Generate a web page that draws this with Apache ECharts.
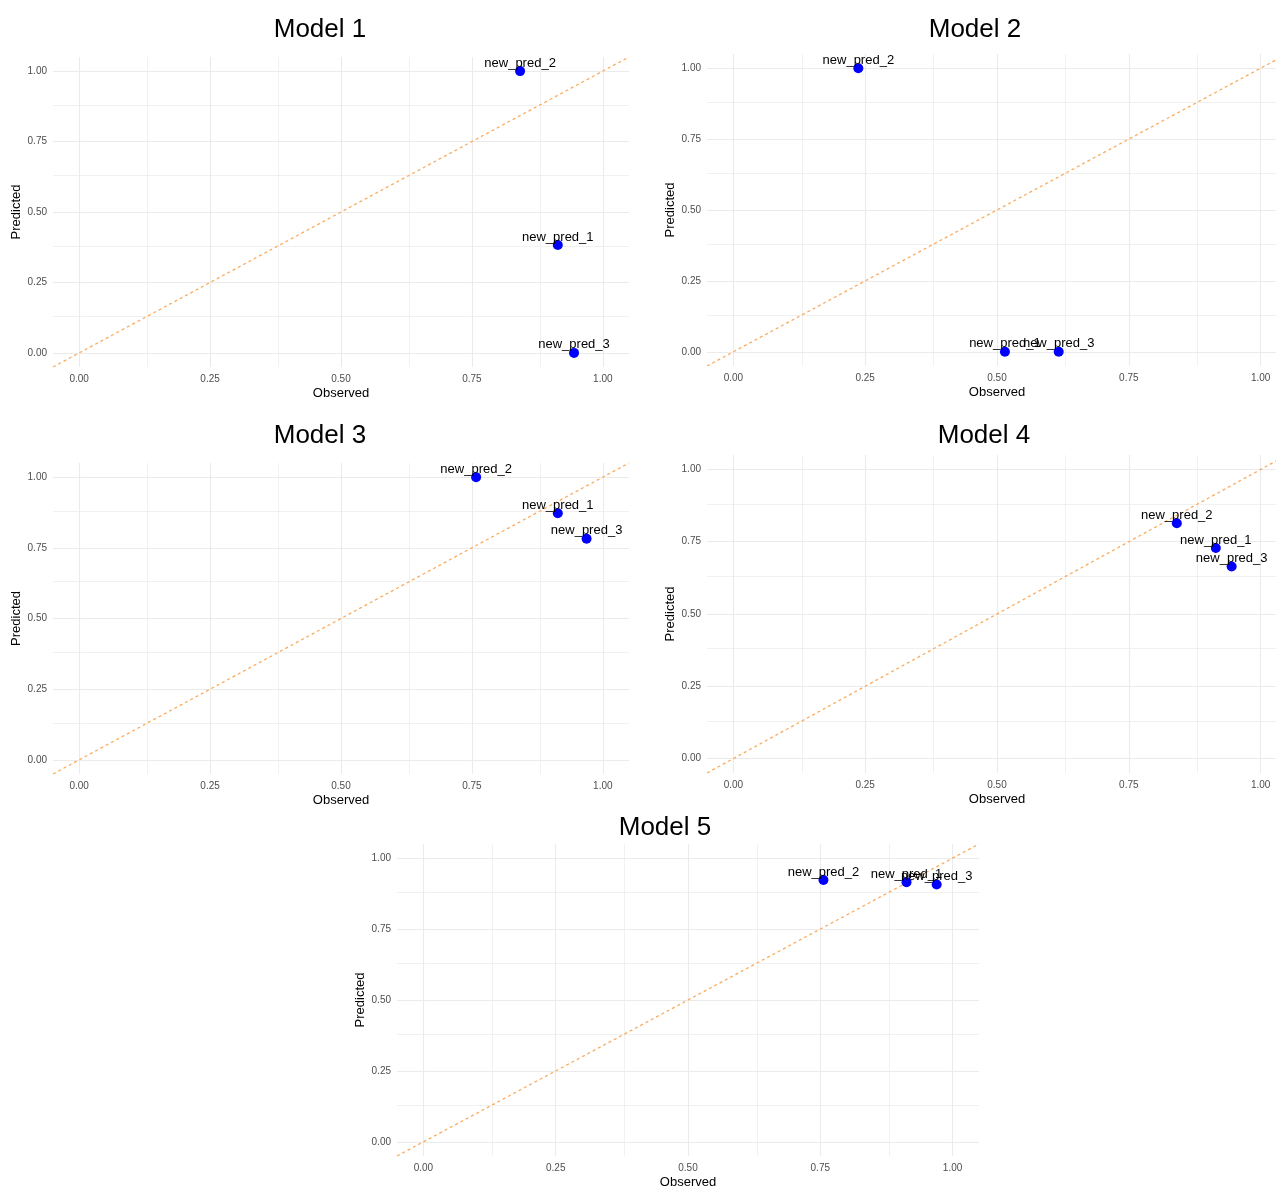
<!DOCTYPE html>
<html>
<head>
<meta charset="utf-8">
<title>Observed vs Predicted</title>
<script src="https://cdn.jsdelivr.net/npm/echarts@6/dist/echarts.min.js"></script>
<style>
  html, body { margin: 0; padding: 0; background: #ffffff; }
  #chart { width: 1276px; height: 1189px; }
</style>
</head>
<body>
<div id="chart"></div>
<script>
// Point names shared by every model
const pointNames = ['new_pred_1', 'new_pred_2', 'new_pred_3'];

// Observed / predicted values per model (same order as pointNames)
const model1Observed = [0.914, 0.842, 0.945];
const model1Predicted = [0.383, 1.000, 0.000];
const model2Observed = [0.515, 0.237, 0.617];
const model2Predicted = [0.000, 1.000, 0.000];
const model3Observed = [0.914, 0.758, 0.969];
const model3Predicted = [0.872, 1.000, 0.782];
const model4Observed = [0.915, 0.841, 0.945];
const model4Predicted = [0.728, 0.814, 0.664];
const model5Observed = [0.913, 0.756, 0.970];
const model5Predicted = [0.915, 0.923, 0.907];

const modelTitles = ['Model 1', 'Model 2', 'Model 3', 'Model 4', 'Model 5'];

// Axis scale: padded range, breaks and tick labels
const axisLimits = [-0.05, 1.05];
const majorBreaks = [0, 0.25, 0.5, 0.75, 1];
const minorBreaks = [0.125, 0.375, 0.625, 0.875];
const tickLabels = ['0.00', '0.25', '0.50', '0.75', '1.00'];

const models = [
  { obs: model1Observed, pred: model1Predicted },
  { obs: model2Observed, pred: model2Predicted },
  { obs: model3Observed, pred: model3Predicted },
  { obs: model4Observed, pred: model4Predicted },
  { obs: model5Observed, pred: model5Predicted }
];

// Panel placement (plot areas) and title centres
const panelBoxes = [
  { left: 53,  top: 57,  width: 576, height: 310, titleX: 315, titleY: 12 },
  { left: 707, top: 54,  width: 580, height: 312, titleX: 970, titleY: 12 },
  { left: 53,  top: 463, width: 576, height: 311, titleX: 315, titleY: 418 },
  { left: 707, top: 455, width: 580, height: 318, titleX: 979, titleY: 418 },
  { left: 397, top: 844, width: 582, height: 312, titleX: 660, titleY: 810 }
];

const FONT = "'Liberation Sans', Arial, sans-serif";
const GRID_COLOR = '#ebebeb';

const fmtTick = v => tickLabels[majorBreaks.indexOf(Math.round(v * 1000) / 1000)] ?? v.toFixed(2);

const grids = [], xAxes = [], yAxes = [], titles = [], series = [];

panelBoxes.forEach((box, i) => {
  grids.push({
    left: box.left, top: box.top, width: box.width, height: box.height,
    containLabel: false, outerBoundsMode: 'none'
  });
  titles.push({
    text: modelTitles[i], left: box.titleX, top: box.titleY, textAlign: 'center',
    textStyle: { fontFamily: FONT, fontSize: 26, fontWeight: 'normal', color: '#000' }
  });
  const axisCommon = {
    type: 'value', gridIndex: i, min: axisLimits[0], max: axisLimits[1],
    axisLine: { show: false }, axisTick: { show: false }, splitLine: { show: false },
    nameTextStyle: { fontFamily: FONT, fontSize: 13, color: '#000' }
  };
  xAxes.push(Object.assign({}, axisCommon, {
    name: 'Observed', nameLocation: 'middle', nameGap: 20,
    axisLabel: { customValues: majorBreaks, formatter: fmtTick, fontFamily: FONT, fontSize: 10, color: '#4d4d4d', margin: 7 }
  }));
  yAxes.push(Object.assign({}, axisCommon, {
    name: 'Predicted', nameLocation: 'middle', nameGap: 30,
    axisLabel: { customValues: majorBreaks, formatter: fmtTick, fontFamily: FONT, fontSize: 10, color: '#4d4d4d', margin: 6 }
  }));

  // Background grid lines (major and minor breaks)
  const gridLines = [];
  majorBreaks.forEach(v => {
    gridLines.push({ xAxis: v, lineStyle: { width: 1.1 } });
    gridLines.push({ yAxis: v, lineStyle: { width: 1.1 } });
  });
  minorBreaks.forEach(v => {
    gridLines.push({ xAxis: v, lineStyle: { width: 0.7 } });
    gridLines.push({ yAxis: v, lineStyle: { width: 0.7 } });
  });

  // Identity line y = x across the padded range
  series.push({
    type: 'line', xAxisIndex: i, yAxisIndex: i, z: 2,
    data: axisLimits.map(v => [v, v]),
    showSymbol: false, symbol: 'none', silent: true, animation: false,
    lineStyle: { color: '#fbab5e', width: 1.3, type: [3, 3] },
    markLine: {
      silent: true, animation: false, symbol: ['none', 'none'], z: 1,
      label: { show: false },
      lineStyle: { color: GRID_COLOR, type: 'solid' },
      emphasis: { disabled: true },
      data: gridLines
    }
  });

  // Labelled points
  const m = models[i];
  series.push({
    type: 'scatter', xAxisIndex: i, yAxisIndex: i, z: 3,
    symbol: 'circle', symbolSize: 10, animation: false,
    itemStyle: { color: '#0000ff', opacity: 1 },
    label: {
      show: true, position: ['50%', -3], align: 'center', verticalAlign: 'middle',
      formatter: p => p.name,
      fontFamily: FONT, fontSize: 13, color: '#000'
    },
    labelLayout: { hideOverlap: false },
    data: pointNames.map((name, k) => ({ name: name, value: [m.obs[k], m.pred[k]] }))
  });
});

const chart = echarts.init(document.getElementById('chart'), null, { renderer: 'canvas' });
chart.setOption({
  backgroundColor: '#ffffff',
  animation: false,
  title: titles,
  grid: grids,
  xAxis: xAxes,
  yAxis: yAxes,
  series: series
});
</script>
</body>
</html>
